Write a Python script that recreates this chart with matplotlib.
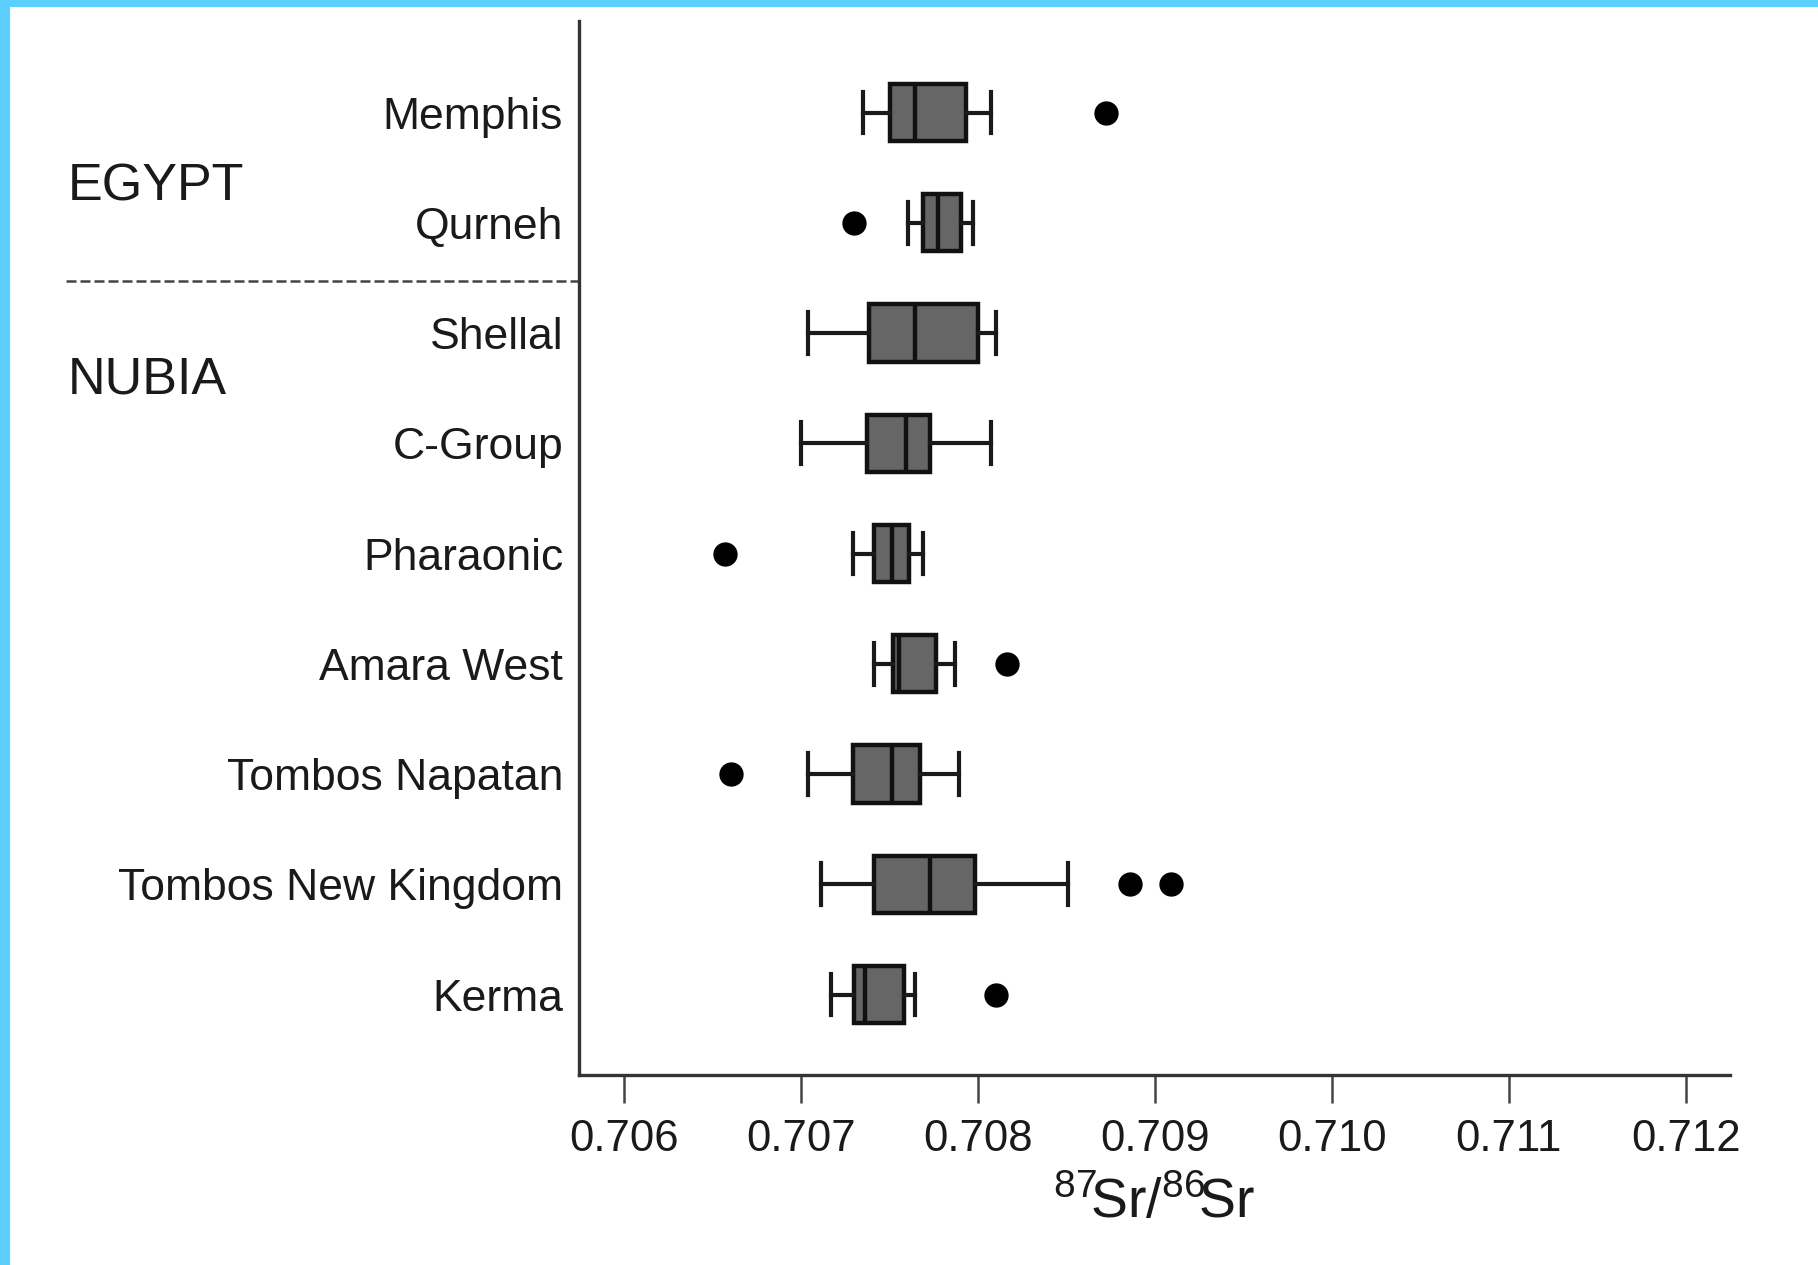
import matplotlib
matplotlib.use("Agg")
import matplotlib.pyplot as plt
import matplotlib.transforms as mtransforms
from matplotlib.patches import Rectangle

plt.rcParams['font.family'] = ['Liberation Sans', 'DejaVu Sans']
plt.rcParams['mathtext.fontset'] = 'custom'
plt.rcParams['mathtext.rm'] = 'Liberation Sans'
plt.rcParams['mathtext.it'] = 'Liberation Sans:italic'

# ---- data ----
sites = ["Memphis", "Qurneh", "Shellal", "C-Group", "Pharaonic", "Amara West",
         "Tombos Napatan", "Tombos New Kingdom", "Kerma"]
whisker_low = [0.70735, 0.70760, 0.70704, 0.70700, 0.70729, 0.70741, 0.70704, 0.70711, 0.70717]
q1 = [0.70750, 0.70769, 0.70738, 0.70737, 0.70741, 0.70752, 0.70729, 0.70741, 0.70730]
median = [0.70764, 0.70777, 0.70764, 0.70759, 0.70751, 0.70755, 0.70751, 0.70773, 0.70736]
q3 = [0.70793, 0.70790, 0.70800, 0.70773, 0.70761, 0.70776, 0.70767, 0.70798, 0.70758]
whisker_high = [0.70807, 0.70797, 0.70810, 0.70807, 0.70769, 0.70787, 0.70789, 0.70851, 0.70764]
outliers = [[0.70872], [0.70730], [], [], [0.70657], [0.70816], [0.70660],
            [0.70886, 0.70909], [0.70810]]
groups = ["EGYPT", "NUBIA"]
xticks = [0.706, 0.707, 0.708, 0.709, 0.710, 0.711, 0.712]
xtick_labels = ["0.706", "0.707", "0.708", "0.709", "0.710", "0.711", "0.712"]

W, H = 1818, 1265
fig = plt.figure(figsize=(W / 100, H / 100), dpi=100)
fig.patch.set_facecolor('white')

# light-blue frame (top and left edges)
fig.add_artist(Rectangle((0, 1 - 7 / H), 1, 7 / H, transform=fig.transFigure,
                         facecolor='#5DCFFF', edgecolor='none', zorder=0))
fig.add_artist(Rectangle((0, 0), 10 / W, 1, transform=fig.transFigure,
                         facecolor='#5DCFFF', edgecolor='none', zorder=0))

ax = fig.add_axes([578.5 / W, 1 - 1075 / H, (1730 - 578.5) / W, (1075 - 21) / H])

stats = []
for i, name in enumerate(sites):
    stats.append(dict(label=name, whislo=whisker_low[i], q1=q1[i], med=median[i],
                      q3=q3[i], whishi=whisker_high[i], fliers=outliers[i]))

positions = list(range(len(sites)))
lw = 3.2
ax.bxp(stats, positions=positions, vert=False, widths=0.52, patch_artist=True,
       showfliers=True, capwidths=0.38,
       boxprops=dict(facecolor='#666666', edgecolor='#111111', linewidth=lw),
       medianprops=dict(color='#111111', linewidth=lw),
       whiskerprops=dict(color='#1a1a1a', linewidth=3.0),
       capprops=dict(color='#1a1a1a', linewidth=3.0),
       flierprops=dict(marker='o', markerfacecolor='black', markeredgecolor='black',
                       markersize=16.5, linestyle='none'))

ax.set_ylim(8.73, -0.83)
ax.set_xlim(0.70574, 0.71225)
ax.set_xticks(xticks)
ax.set_xticklabels(xtick_labels, fontsize=31.5, color='#1a1a1a')
ax.set_yticks(positions)
ax.set_yticklabels(sites, fontsize=32, color='#1a1a1a')
ax.tick_params(axis='y', length=0, pad=11)
ax.tick_params(axis='x', length=20, width=1.8, color='#444444', pad=12, direction='out')

for s in ['top', 'right']:
    ax.spines[s].set_visible(False)
for s in ['left', 'bottom']:
    ax.spines[s].set_linewidth(2.4)
    ax.spines[s].set_color('#333333')

ax.set_xlabel(r'$^{87}\!\mathrm{Sr}/^{86}\!\mathrm{Sr}$', fontsize=40, labelpad=12, color='#1a1a1a')

# dashed separator between Egypt and Nubia
trans = mtransforms.blended_transform_factory(fig.transFigure, ax.transData)
ax.plot([66 / W, 578.5 / W], [1.53, 1.53], transform=trans, clip_on=False,
        color='#444444', linewidth=1.8, linestyle=(0, (4, 1.6)))

# group labels
ax.text(68 / W, 0.68, groups[0], transform=trans, fontsize=37.5, color='#1a1a1a',
        ha='left', va='center')
ax.text(68 / W, 2.43, groups[1], transform=trans, fontsize=37.5, color='#1a1a1a',
        ha='left', va='center')

fig.savefig('out.png', dpi=100, facecolor='white')
